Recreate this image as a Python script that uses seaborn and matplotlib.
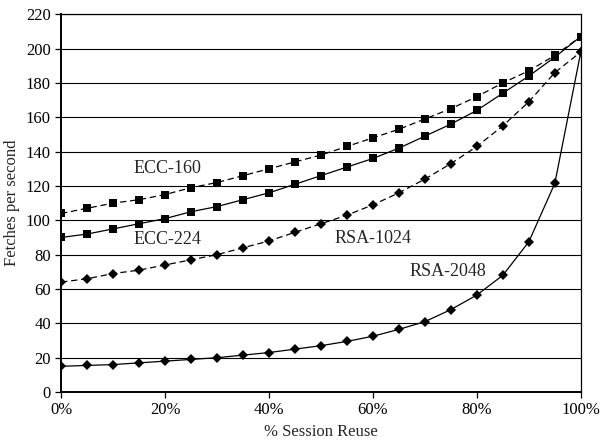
"""
Fetches per second vs. session reuse for ECC and RSA key sizes.
"""

import matplotlib
matplotlib.use("Agg")
import matplotlib.pyplot as plt
from matplotlib.ticker import FuncFormatter, MultipleLocator
import numpy as np
import pandas as pd
import seaborn as sns

# % session reuse
reuse = [0, 5, 10, 15, 20, 25, 30, 35, 40, 45, 50, 55, 60, 65, 70, 75, 80, 85, 90, 95, 100]

ecc_160 = [104, 107, 110, 112, 115, 119, 122, 126, 130, 134, 138, 143, 148, 153, 159,
           165, 172, 180, 187, 196, 207]
ecc_224 = [90, 92, 95, 98, 101, 105, 108, 112, 116, 121, 126, 131, 136, 142, 149,
           156, 164, 174, 184, 195, 207]
rsa_1024 = [64, 66, 69, 71, 74, 77, 80, 84, 88, 93, 98, 103, 109, 116, 124,
            133, 143, 155, 169, 186, 198]
rsa_2048 = [15, 15.5, 16, 17, 18, 19, 20, 21.5, 23, 25, 27, 29.5, 32.5, 36.5, 41,
            48, 56.5, 68, 87.5, 121.5, 198]

series_names = ["ECC-160", "ECC-224", "RSA-1024", "RSA-2048"]

sns.set_style("white")
plt.rcParams["font.family"] = ["Liberation Serif", "DejaVu Serif"]

df = pd.DataFrame({
    "reuse": reuse * 4,
    "fps": ecc_160 + ecc_224 + rsa_1024 + rsa_2048,
    "series": np.repeat(series_names, len(reuse)),
})

styles = {
    "ECC-160": dict(marker="s", ls=(0, (5, 3)), ms=5.5),
    "ECC-224": dict(marker="s", ls="-", ms=5.5),
    "RSA-1024": dict(marker="D", ls=(0, (5, 3)), ms=5),
    "RSA-2048": dict(marker="D", ls="-", ms=5),
}

fig, ax = plt.subplots(figsize=(6, 4.43), dpi=100)
fig.subplots_adjust(left=0.102, right=0.968, top=0.968, bottom=0.115)

for name in series_names:
    st = styles[name]
    sns.lineplot(data=df[df["series"] == name], x="reuse", y="fps", ax=ax,
                 color="black", lw=0.9, linestyle=st["ls"], marker=st["marker"],
                 markersize=st["ms"], markeredgewidth=0, legend=False)

ax.set_xlim(0, 100)
ax.set_ylim(0, 220)
ax.xaxis.set_major_locator(MultipleLocator(20))
ax.yaxis.set_major_locator(MultipleLocator(20))
ax.xaxis.set_major_formatter(FuncFormatter(lambda v, p: f"{int(v)}%"))
ax.yaxis.grid(True, color="black", lw=0.8)
ax.set_axisbelow(True)

for sp in ax.spines.values():
    sp.set_color("black")
    sp.set_linewidth(0.9)
ax.spines["left"].set_linewidth(1.4)
ax.spines["bottom"].set_linewidth(1.4)

ax.tick_params(axis="both", direction="out", length=4, width=0.9, colors="black",
               labelsize=12, bottom=True, left=True)
ax.set_xlabel("% Session Reuse", fontsize=12)
ax.set_ylabel("Fetches per second", fontsize=12)

ax.text(20.5, 130, "ECC-160", fontsize=13, ha="center", va="center")
ax.text(20.5, 89, "ECC-224", fontsize=13, ha="center", va="center")
ax.text(60, 89.5, "RSA-1024", fontsize=13, ha="center", va="center")
ax.text(74.5, 70, "RSA-2048", fontsize=13, ha="center", va="center")

fig.savefig("out.png", dpi=100)
